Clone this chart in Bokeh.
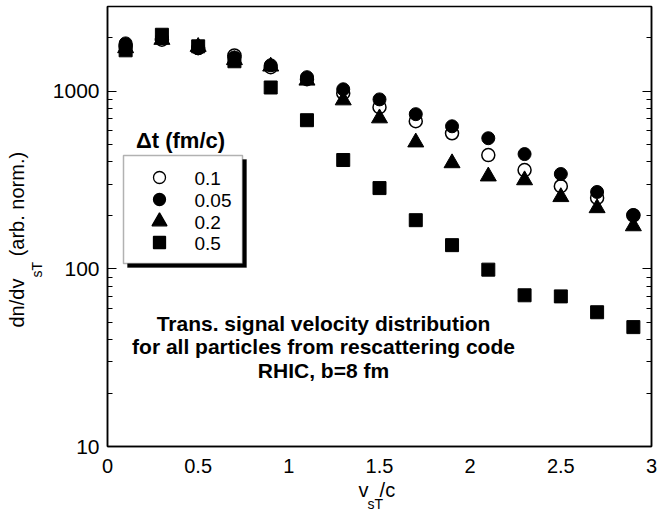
import math
from bokeh.plotting import figure
from bokeh.models import (Range1d, LinearAxis, LogAxis, FixedTicker, Label, Title,
                          BoxAnnotation, ColumnDataSource)
from bokeh.embed import file_html
from bokeh.resources import INLINE

# ---------------- data ----------------
x_vals = [0.1, 0.3, 0.5, 0.7, 0.9, 1.1, 1.3, 1.5, 1.7, 1.9, 2.1, 2.3, 2.5, 2.7, 2.9]
dt_01 = [1800, 1950, 1750, 1590, 1365, 1170, 975, 813, 678, 580, 437, 360, 292, 251, 200]
dt_005 = [1860, 1990, 1745, 1550, 1400, 1200, 1026, 900, 743, 635, 544, 443, 342, 271, 201]
dt_02 = [1750, 1950, 1780, 1500, 1380, 1150, 890, 705, 516, 394, 332, 316, 254, 220, 174]
dt_05 = [1700, 2080, 1790, 1475, 1050, 687, 410, 285, 188, 136, 99, 71, 70, 57, 47]
series_names = ["0.1", "0.05", "0.2", "0.5"]
x_ticks = [0, 0.5, 1, 1.5, 2, 2.5, 3]
x_tick_labels = ["0", "0.5", "1", "1.5", "2", "2.5", "3"]
y_ticks = [10, 100, 1000]
y_tick_labels = ["10", "100", "1000"]
y_minor = [v * m for v in (10, 100, 1000) for m in range(2, 10)]

FONT = "Liberation Sans"
NB = "\u00a0"

# ---------------- layout (canvas pixels) ----------------
W, H = 657, 516
L, R, T, B = 107, 651, 6, 446      # frame edges in canvas px
X0, X1 = 0, 3
Y0, Y1 = 10, 3000


def px_x(px):
    return X0 + (px - L) / (R - L) * (X1 - X0)


def px_y(py):
    lo, hi = math.log10(Y0), math.log10(Y1)
    return 10 ** (lo + (B - py) / (B - T) * (hi - lo))


p = figure(width=W, height=H, y_axis_type="log", output_backend="svg",
           toolbar_location=None, x_range=Range1d(X0, X1), y_range=Range1d(Y0, Y1),
           x_axis_type=None, min_border_left=L, min_border_right=W - R,
           min_border_top=T, min_border_bottom=H - B)
p.grid.visible = False
p.outline_line_color = "black"
p.outline_line_width = 1.5
p.background_fill_color = "white"
p.border_fill_color = "white"

# bottom axis
xa = LinearAxis(ticker=FixedTicker(ticks=x_ticks, minor_ticks=[]))
xa.major_label_overrides = {t: s for t, s in zip(x_ticks, x_tick_labels)}
xa.major_tick_line_color = None
xa.minor_tick_line_color = None
xa.axis_line_width = 1.5
xa.major_label_text_font = FONT
xa.major_label_text_font_size = "20px"
xa.major_label_text_color = "black"
xa.major_label_standoff = 6
p.add_layout(xa, "below")

# left axis
ya = p.yaxis[0]
ya.ticker = FixedTicker(ticks=y_ticks, minor_ticks=y_minor)
ya.major_label_overrides = {t: s for t, s in zip(y_ticks, y_tick_labels)}
ya.major_tick_in = 9
ya.major_tick_out = 0
ya.minor_tick_in = 5
ya.minor_tick_out = 0
ya.major_tick_line_width = 1.2
ya.minor_tick_line_width = 1.2
ya.axis_line_width = 1.5
ya.major_label_text_font = FONT
ya.major_label_text_font_size = "21px"
ya.major_label_text_color = "black"
ya.major_label_standoff = 8

# right axis (ticks only)
ra = LogAxis(ticker=FixedTicker(ticks=y_ticks, minor_ticks=y_minor))
ra.major_label_overrides = {t: "" for t in y_ticks}
ra.major_tick_in = 9
ra.major_tick_out = 0
ra.minor_tick_in = 5
ra.minor_tick_out = 0
ra.major_tick_line_width = 1.2
ra.minor_tick_line_width = 1.2
ra.axis_line_width = 1.5
ra.major_label_text_font_size = "2px"
ra.major_label_standoff = 0
p.add_layout(ra, "right")

# ---------------- data points ----------------
src = ColumnDataSource(dict(x=x_vals, a=dt_01, b=dt_005, c=dt_02, d=dt_05))
p.scatter("x", "a", source=src, marker="circle", size=13, fill_color="white",
          line_color="black", line_width=1.5)
p.scatter("x", "c", source=src, marker="triangle", size=16, fill_color="black",
          line_color="black")
p.scatter("x", "b", source=src, marker="circle", size=13, fill_color="black",
          line_color="black")
p.scatter("x", "d", source=src, marker="square", size=13, fill_color="black",
          line_color="black")

# ---------------- legend (manual, with drop shadow) ----------------
bl, bt, br, bb = 123, 155, 242, 263
p.add_layout(BoxAnnotation(left=px_x(bl + 4), right=px_x(br + 4), top=px_y(bt + 4),
                           bottom=px_y(bb + 4), fill_color="black", fill_alpha=1,
                           line_color="black", level="underlay"))
p.add_layout(BoxAnnotation(left=px_x(bl), right=px_x(br), top=px_y(bt),
                           bottom=px_y(bb), fill_color="white", fill_alpha=1,
                           line_color="black", line_width=1.5, level="underlay"))
row_y = [177, 199, 221, 242]
key_x = [px_x(159)] * 4
key_y = [px_y(v) for v in row_y]
mk = [("circle", "white", 12), ("circle", "black", 12), ("triangle", "black", 15),
      ("square", "black", 12)]
for i, (m, fc, s) in enumerate(mk):
    p.scatter(x=[key_x[i]], y=[key_y[i]], marker=m, size=s,
              fill_color=fc, line_color="black", line_width=1.3)
    p.add_layout(Label(x=px_x(194), y=px_y(row_y[i] + 1), text=series_names[i],
                       text_font=FONT, text_font_size="19px", text_align="left",
                       text_baseline="middle", text_color="black"))
p.add_layout(Label(x=px_x(180), y=px_y(140), text="\u0394t (fm/c)", text_font=FONT,
                   text_font_size="22px", text_font_style="bold", text_align="center",
                   text_baseline="middle", text_color="black"))

# ---------------- annotation ----------------
notes = ["Trans. signal velocity distribution",
         "for all particles from rescattering code",
         "RHIC, b=8 fm"]
for txt, cy in zip(notes, [323, 346, 370]):
    p.add_layout(Label(x=px_x(323), y=px_y(cy), text=txt, text_font=FONT,
                       text_font_size="21px", text_font_style="bold",
                       text_align="center", text_baseline="middle",
                       text_color="black"))

# ---------------- axis titles with subscripts (side-panel titles) ----------------
def side_title(text, size, offset, standoff, where):
    t = Title(text=text, align="left", offset=offset, standoff=standoff,
              text_font=FONT, text_font_size=size, text_font_style="normal",
              text_color="black")
    p.add_layout(t, where)


# x title: v_sT/c  (main row, then subscript row below it)
side_title("v" + NB * 2 + "/c", "20px", 358 - L, 3, "below")
side_title("sT", "14px", 367 - L, -17, "below")

# y title: dn/dv_sT (arb. norm.)  (subscript column nearer the axis)
side_title("sT", "14px", B - 277, 10, "left")
side_title("dn/dv" + NB * 4 + "(arb. norm.)", "20px", B - 327, -13, "left")

open("out.html", "w").write(file_html(p, INLINE))
